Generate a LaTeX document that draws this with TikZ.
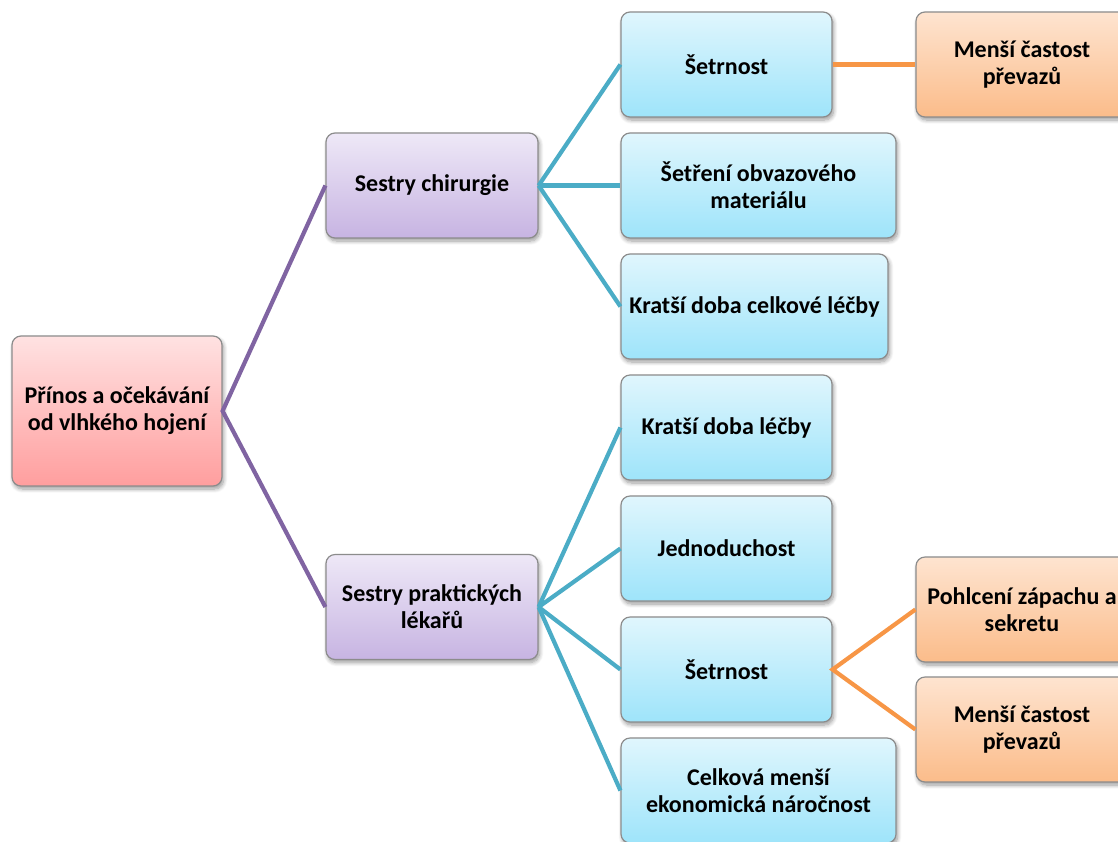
\documentclass[tikz,border=0pt]{standalone}
\usepackage{fontspec}
\setmainfont{Carlito}
\usetikzlibrary{shadows.blur}

\definecolor{boxline}{RGB}{140,140,140}
\definecolor{rootTop}{RGB}{255,226,226}
\definecolor{rootBot}{RGB}{255,158,158}
\definecolor{lilTop}{RGB}{238,232,247}
\definecolor{lilBot}{RGB}{199,180,226}
\definecolor{cyTop}{RGB}{224,246,253}
\definecolor{cyBot}{RGB}{158,228,250}
\definecolor{orTop}{RGB}{254,228,208}
\definecolor{orBot}{RGB}{251,188,138}
\definecolor{purpleLink}{RGB}{128,100,162}
\definecolor{blueLink}{RGB}{75,172,198}
\definecolor{orangeLink}{RGB}{247,150,70}

\begin{document}
\begin{tikzpicture}[x=1pt,y=-1pt,
  box/.style={draw=boxline, line width=1.2pt, rounded corners=9pt, align=center,
    font=\bfseries\fontsize{24}{27}\selectfont, text=black, inner sep=0pt,
    minimum height=105pt,
    blur shadow={shadow xshift=1.5pt, shadow yshift=-3pt, shadow opacity=40,
      shadow blur steps=8, shadow blur radius=4pt}},
  rootbox/.style={box, top color=rootTop, bottom color=rootBot,
    minimum width=210pt, minimum height=150pt},
  groupbox/.style={box, top color=lilTop, bottom color=lilBot, minimum width=212pt},
  itembox/.style={box, top color=cyTop, bottom color=cyBot, minimum width=#1},
  itembox/.default=211pt,
  detailbox/.style={box, top color=orTop, bottom color=orBot, minimum width=212pt},
  link/.style={line width=4.2pt, draw=#1}
]
\clip (0,0) rectangle (1118,841);

% root and the two groups
\node[rootbox] (root) at (117,411) {Přínos a očekávání\\od vlhkého hojení};
\node[groupbox] (chir) at (432,185.5) {Sestry chirurgie};
\node[groupbox] (prak) at (432,607) {Sestry praktických\\lékařů};

% surgical nurses
\node[itembox] (c1) at (726.5,64.5) {Šetrnost};
\node[itembox=275pt] (c2) at (758.5,185.5) {Šetření obvazového\\materiálu};
\node[itembox=267pt] (c3) at (754.5,306.5) {Kratší doba celkové léčby};

% practice nurses
\node[itembox] (p1) at (726.5,427.5) {Kratší doba léčby};
\node[itembox] (p2) at (726.5,548.5) {Jednoduchost};
\node[itembox] (p3) at (726.5,669.5) {Šetrnost};
\node[itembox=275pt] (p4) at (758.5,790.5) {Celková menší\\ekonomická náročnost};

% details
\node[detailbox] (o1) at (1022,64.5) {Menší častost\\převazů};
\node[detailbox] (o2) at (1022,609.5) {Pohlcení zápachu a\\sekretu};
\node[detailbox] (o3) at (1022,729.5) {Menší častost\\převazů};

% connectors
\draw[link=purpleLink] (chir.west) -- (root.east) -- (prak.west);
\foreach \n in {c1,c2,c3} \draw[link=blueLink] (chir.east) -- (\n.west);
\foreach \n in {p1,p2,p3,p4} \draw[link=blueLink] (prak.east) -- (\n.west);
\draw[link=orangeLink] (c1.east) -- (o1.west);
\draw[link=orangeLink] (o2.west) -- (p3.east) -- (o3.west);
\end{tikzpicture}
\end{document}
